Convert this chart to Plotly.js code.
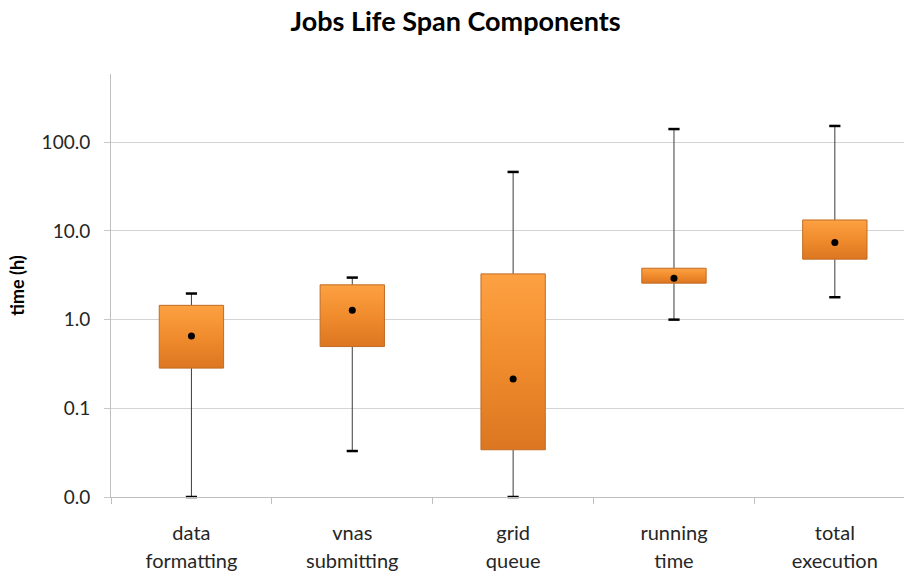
<!DOCTYPE html>
<html><head><meta charset="utf-8">
<script src="https://cdn.plot.ly/plotly-3.0.1.min.js"></script>
<style>html,body{margin:0;padding:0;background:#fff}#chart{width:904px;height:572px}</style>
</head><body><div id="chart"></div>
<script>
const categories = ['data formatting', 'vnas submitting', 'grid queue', 'running time', 'total execution'];
const lowValues = [0.01, 0.033, 0.01, 1.0, 1.79];
const q1Values = [0.284, 0.497, 0.0341, 2.58, 4.81];
const medianValues = [0.656, 1.28, 0.214, 2.93, 7.39];
const q3Values = [1.45, 2.47, 3.28, 3.80, 13.3];
const highValues = [1.97, 2.98, 46.3, 141, 152.8];
const yTickValues = [0.01, 0.1, 1, 10, 100];
const yTickLabels = ['0.0', '0.1', '1.0', '10.0', '100.0'];

const FONT = 'Lato, "Open Sans", sans-serif';
const idx = categories.map((_, i) => i);
const halfBox = 0.2;
const traces = [];

// whiskers
const wx = [], wy = [];
idx.forEach(i => {
  wx.push(i, i, null, i, i, null);
  wy.push(q3Values[i], highValues[i], null, lowValues[i], q1Values[i], null);
});
traces.push({type: 'scatter', mode: 'lines', x: wx, y: wy, line: {color: '#3c3c3c', width: 1}, hoverinfo: 'skip', showlegend: false, cliponaxis: false});

// boxes
idx.forEach(i => {
  traces.push({
    type: 'scatter', mode: 'lines',
    x: [i - halfBox, i + halfBox, i + halfBox, i - halfBox, i - halfBox],
    y: [q1Values[i], q1Values[i], q3Values[i], q3Values[i], q1Values[i]],
    fill: 'toself', fillcolor: '#F08D2E',
    fillgradient: {type: 'vertical', colorscale: [[0, '#DC7621'], [0.5, '#F08C2D'], [1, '#FDA142']]},
    line: {color: '#C06C24', width: 1}, showlegend: false, hoverinfo: 'skip'
  });
});

// caps
traces.push({
  type: 'scatter', mode: 'markers',
  x: idx.concat(idx), y: highValues.concat(lowValues),
  marker: {symbol: 'line-ew', size: 8, line: {color: '#000', width: 2.5}},
  showlegend: false, cliponaxis: false
});

// medians
traces.push({
  type: 'scatter', mode: 'markers', x: idx, y: medianValues,
  marker: {symbol: 'circle', size: 7, color: '#000'}, showlegend: false
});

const firstLines = categories.map(c => c.split(' ')[0]);
const secondLines = categories.map(c => c.split(' ').slice(1).join(' '));
const boundaries = [-0.5].concat(idx.map(i => i + 0.5));
traces.push({type: 'scatter', x: [], y: [], xaxis: 'x2', showlegend: false});
traces.push({type: 'scatter', x: [], y: [], xaxis: 'x3', showlegend: false});

const xr = [-0.5, 4.43];
const layout = {
  width: 904, height: 572,
  paper_bgcolor: '#fff', plot_bgcolor: '#fff',
  font: {family: FONT, color: '#262626'},
  margin: {l: 111, r: 0, t: 74, b: 75},
  showlegend: false,
  title: {text: '<b>Jobs Life Span Components</b>', font: {size: 27, family: FONT, color: '#000'},
          xref: 'container', x: 0.504, yref: 'container', y: 0.963, yanchor: 'middle'},
  xaxis: {range: xr, tickvals: idx, ticktext: firstLines, ticks: 'outside', ticklen: 18, tickcolor: 'rgba(0,0,0,0)',
          showgrid: false, zeroline: false, showline: true, linecolor: '#BFBFBF', linewidth: 1,
          tickfont: {size: 20, family: FONT, color: '#262626'}},
  xaxis2: {overlaying: 'x', matches: 'x', range: xr, side: 'bottom', tickvals: idx, ticktext: secondLines,
           ticks: 'outside', ticklen: 46, tickcolor: 'rgba(0,0,0,0)', showgrid: false, zeroline: false, showline: false,
           tickfont: {size: 20, family: FONT, color: '#262626'}},
  xaxis3: {overlaying: 'x', matches: 'x', range: xr, side: 'bottom', tickvals: boundaries, showticklabels: false,
           ticks: 'outside', ticklen: 6, tickcolor: '#BFBFBF', showgrid: false, zeroline: false, showline: false},
  yaxis: {type: 'log', range: [-2, 2.77], tickvals: yTickValues, ticktext: yTickLabels,
          ticks: 'outside', ticklen: 6, tickcolor: '#C8C8C8', gridcolor: '#D4D4D4', gridwidth: 1,
          showline: true, linecolor: '#BFBFBF', linewidth: 1, zeroline: false, ticklabelstandoff: 10,
          tickfont: {size: 19, family: FONT, color: '#262626'},
          title: {text: '<b>time (h)</b>', font: {size: 18, family: FONT, color: '#000'}, standoff: 12}}
};
Plotly.newPlot('chart', traces, layout, {displayModeBar: false, staticPlot: true});
</script></body></html>
